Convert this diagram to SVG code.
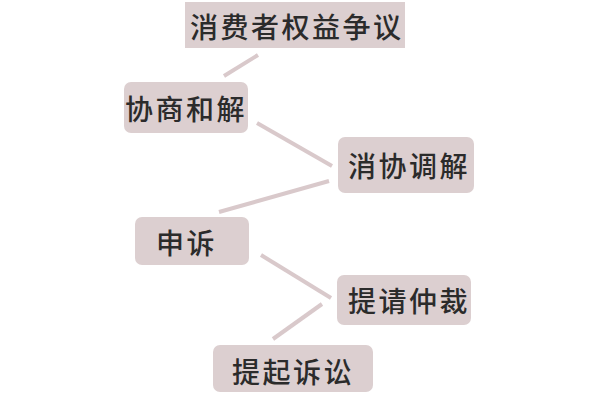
<svg xmlns="http://www.w3.org/2000/svg" width="600" height="400" viewBox="0 0 600 400">
<style>
.box{fill:#dccfd0}
.t{font-family:"Noto Sans CJK SC","Noto Sans CJK TC",sans-serif;font-size:28px;font-weight:500;fill:#2b2b2b;dominant-baseline:central;letter-spacing:2.5px}
.c line{stroke:#d9c9cb;stroke-width:4;stroke-linecap:butt}
</style>
<rect width="600" height="400" fill="#fff"/>
<g class="c" id="connectors">
<line x1="224" y1="76" x2="258" y2="55"/>
<line x1="257" y1="123" x2="332" y2="166"/>
<line x1="219" y1="212" x2="329" y2="181"/>
<line x1="261" y1="255" x2="331" y2="298"/>
<line x1="273" y1="339" x2="322" y2="304"/>
</g>
<g id="n1"><rect class="box" x="185" y="2" width="220" height="46"/><text class="t" x="190" y="26">消费者权益争议</text></g>
<g id="n2"><rect class="box" x="124" y="82" width="124" height="51" rx="7"/><text class="t" x="125" y="108">协商和解</text></g>
<g id="n3"><rect class="box" x="338" y="137" width="136" height="56" rx="7"/><text class="t" x="348" y="165">消协调解</text></g>
<g id="n4"><rect class="box" x="135" y="217" width="114" height="48" rx="7"/><text class="t" x="156" y="242">申诉</text></g>
<g id="n5"><rect class="box" x="337" y="275" width="134" height="50" rx="7"/><text class="t" x="348" y="300">提请仲裁</text></g>
<g id="n6"><rect class="box" x="213" y="345" width="160" height="47" rx="7"/><text class="t" x="232" y="371">提起诉讼</text></g>
</svg>
